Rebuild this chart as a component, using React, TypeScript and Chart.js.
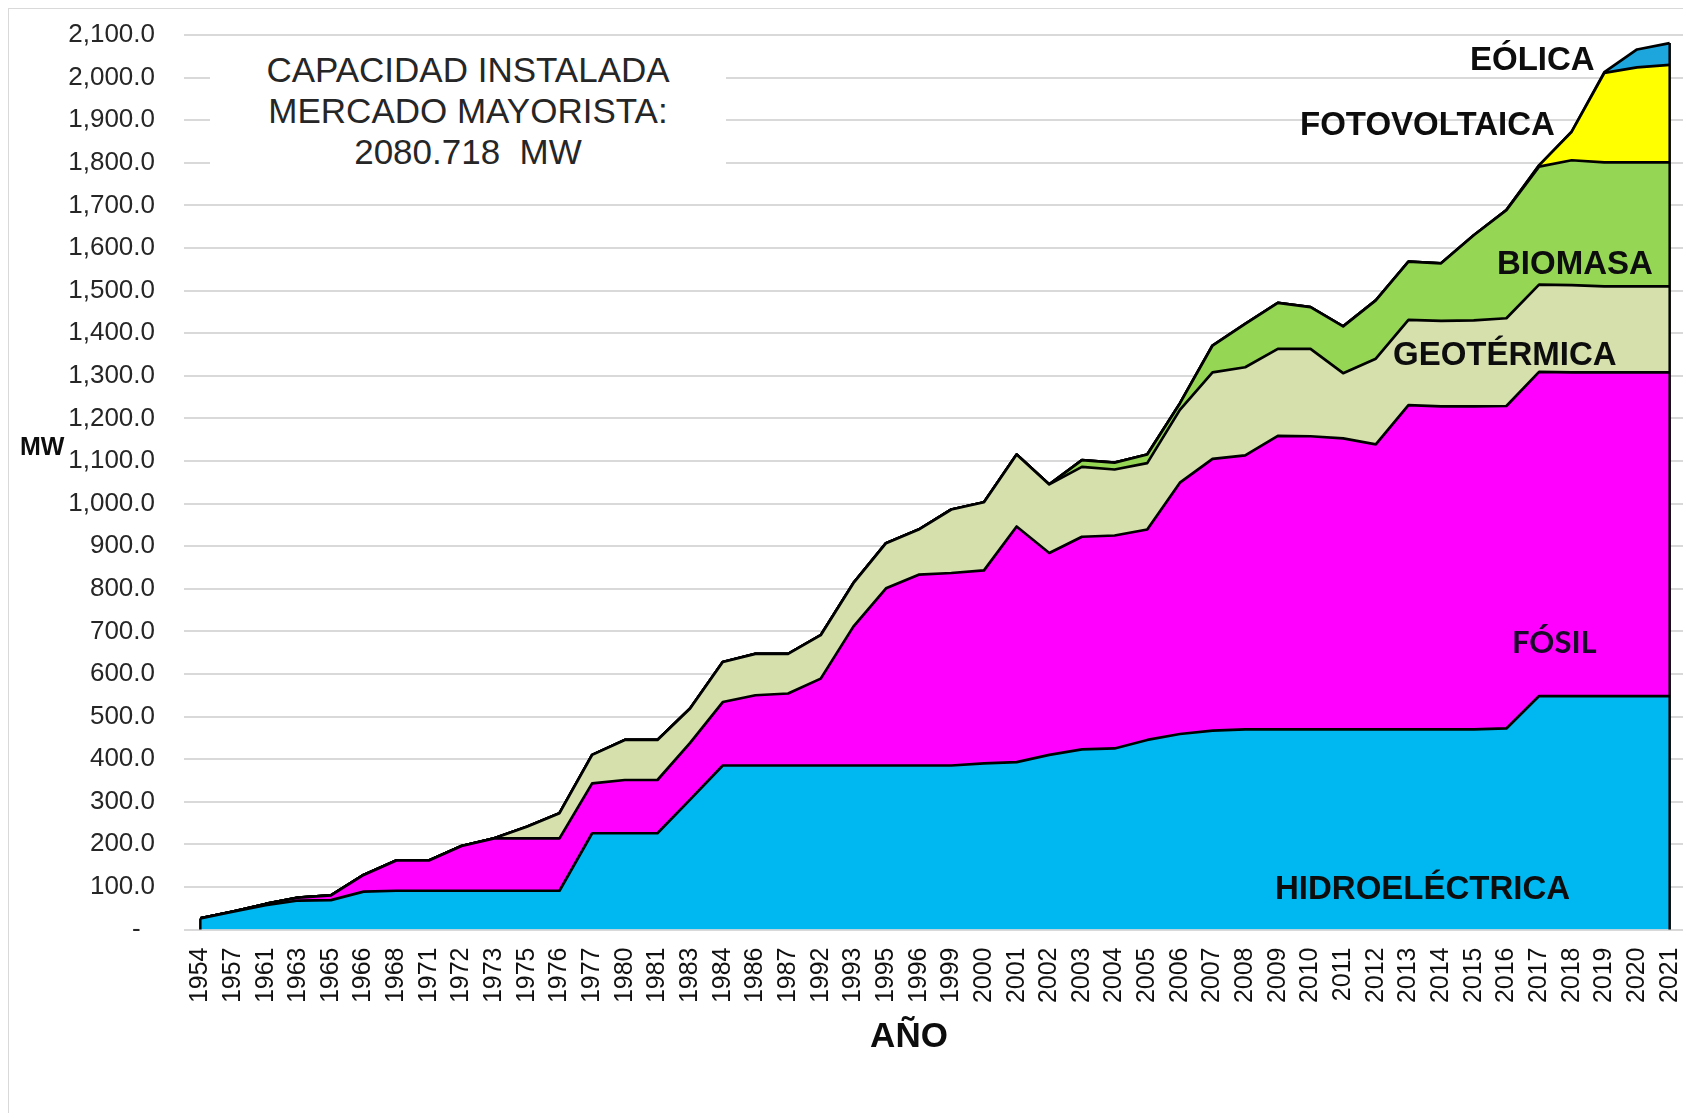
import React, { useEffect, useRef } from "react";
import { Chart, registerables } from "chart.js";

Chart.register(...registerables);

const years = ["1954","1957","1961","1963","1965","1966","1968","1971","1972","1973","1975","1976","1977","1980","1981","1983","1984","1986","1987","1992","1993","1995","1996","1999","2000","2001","2002","2003","2004","2005","2006","2007","2008","2009","2010","2011","2012","2013","2014","2015","2016","2017","2018","2019","2020","2021"];

const hydro = [26,42,57,68,69,89,91,91,91,91,91,91,226,226,226,305,385,385,385,385,385,385,385,385,390,393,410,423,425,445,459,467,470,470,470,470,470,470,470,470,472,548,548,548,548,548];
const fossil = [0,0,3,7,11,39,71,71,105,123,123,123,117,125,125,133,149,165,169,204,326,416,448,452,453,553,474,499,500,494,590,638,643,689,688,683,669,761,758,758,757,761,760,760,760,760];
const geo = [0,0,0,0,0,0,0,0,0,0,27,59,67,94,94,81,94,97,93,102,102,106,106,149,160,169,161,164,155,156,171,203,207,204,205,153,201,200,201,202,206,205,205,202,202,202];
const biomass = [0,0,0,0,0,0,0,0,0,0,0,0,0,0,0,0,0,0,0,0,0,0,0,0,0,0,0,16,16,20,15,63,102,108,98,110,137,137,135,200,254,277,293,291,291,291];
const solar = [0,0,0,0,0,0,0,0,0,0,0,0,0,0,0,0,0,0,0,0,0,0,0,0,0,0,0,0,0,0,0,0,0,0,0,0,0,0,0,0,0,3,67,210,223,229];
const wind = [0,0,0,0,0,0,0,0,0,0,0,0,0,0,0,0,0,0,0,0,0,0,0,0,0,0,0,0,0,0,0,0,0,0,0,0,0,0,0,0,0,0,0,2,42,51];

const seriesNames = ["HIDROELÉCTRICA", "FÓSIL", "GEOTÉRMICA", "BIOMASA", "FOTOVOLTAICA", "EÓLICA"];
const seriesColors = ["#00B8F1", "#FF00FF", "#D5E0AC", "#95D655", "#FFFF00", "#1DA6DE"];
const yTicksMax = 2100;
const yStep = 100;

const FONT = '"Liberation Sans", Arial, Helvetica, sans-serif';

const edgePlugin = {
  id: "edges",
  afterDatasetsDraw(chart: any) {
    const { ctx, scales } = chart;
    const x = scales.x;
    const y = scales.y;
    const n = years.length;
    const totals = years.map((_, i) => hydro[i] + fossil[i] + geo[i] + biomass[i] + solar[i] + wind[i]);
    ctx.save();
    ctx.strokeStyle = "#000";
    ctx.lineWidth = 2.5;
    [0, n - 1].forEach((i) => {
      const px = x.getPixelForValue(i);
      ctx.beginPath();
      ctx.moveTo(px, y.getPixelForValue(0));
      ctx.lineTo(px, y.getPixelForValue(totals[i]));
      ctx.stroke();
    });
    ctx.restore();
  },
};

export default function App() {
  const ref = useRef<HTMLCanvasElement | null>(null);

  useEffect(() => {
    document.body.style.overflow = "hidden";
    const canvas = ref.current;
    if (!canvas) return;
    const data = [hydro, fossil, geo, biomass, solar, wind];
    const chart = new Chart(canvas, {
      type: "line",
      data: {
        labels: years,
        datasets: data.map((d, i) => ({
          label: seriesNames[i],
          data: d,
          backgroundColor: seriesColors[i],
          borderColor: "#000",
          borderWidth: 2.7,
          fill: i === 0 ? "origin" : "-1",
          pointRadius: 0,
          tension: 0,
          borderJoinStyle: "round",
        })),
      },
      options: {
        responsive: false,
        animation: false,
        layout: { padding: { top: 26, right: 4, left: 0, bottom: 0 } },
        plugins: { legend: { display: false }, tooltip: { enabled: false } },
        scales: {
          x: {
            type: "category",
            offset: true,
            grid: { display: false, drawTicks: false },
            border: { display: false },
            ticks: {
              autoSkip: false,
              minRotation: 90,
              maxRotation: 90,
              padding: 18,
              color: "#111",
              font: { family: FONT, size: 25 },
            },
            afterFit: (s: any) => {
              s.height = 183.5;
              s.paddingLeft = 0;
              s.paddingRight = 0;
            },
          },
          y: {
            stacked: true,
            min: 0,
            max: yTicksMax,
            grid: { color: "#d9d9d9", lineWidth: 2, drawTicks: false },
            border: { display: false },
            ticks: {
              stepSize: yStep,
              padding: 29,
              color: "#262626",
              font: { family: FONT, size: 26 },
              callback: (v: any) =>
                Number(v) === 0
                  ? "-  "
                  : Number(v).toLocaleString("en-US", { minimumFractionDigits: 1, maximumFractionDigits: 1 }),
            },
            afterFit: (s: any) => {
              s.width = 175;
              s.paddingTop = 0;
              s.paddingBottom = 0;
            },
          },
        },
      },
      plugins: [edgePlugin],
    } as any);
    return () => chart.destroy();
  }, []);

  const lbl = (text: string, left: number, top: number, size: number, family = FONT, color = "#0d0d0d") => (
    <div
      style={{
        position: "absolute",
        left,
        top,
        fontFamily: family,
        fontWeight: 700,
        fontSize: size,
        lineHeight: `${size}px`,
        color,
        whiteSpace: "nowrap",
      }}
    >
      {text}
    </div>
  );

  return (
    <div
      style={{
        position: "relative",
        width: 1681,
        height: 1104,
        border: "1px solid #d9d9d9",
        background: "#fff",
      }}
    >
      <canvas ref={ref} width={1681} height={1104} style={{ display: "block", width: 1681, height: 1104 }} />
      <div style={{ position: "absolute", left: 201, top: 36, width: 516, height: 150, background: "#fff" }} />
      <div
        style={{
          position: "absolute",
          left: 201,
          top: 40,
          width: 516,
          textAlign: "center",
          fontFamily: FONT,
          fontSize: 35,
          lineHeight: "41px",
          color: "#262626",
        }}
      >
        <div>CAPACIDAD INSTALADA</div>
        <div>MERCADO MAYORISTA:</div>
        <div>2080.718&nbsp; MW</div>
      </div>
      {lbl("EÓLICA", 1461, 33, 33)}
      {lbl("FOTOVOLTAICA", 1291, 98, 33)}
      {lbl("BIOMASA", 1488, 237, 33)}
      {lbl("GEOTÉRMICA", 1384, 328, 33)}
      {lbl("FÓSIL", 1503, 617, 31, 'Lato, "Liberation Sans", sans-serif', "#1a0a2a")}
      {lbl("HIDROELÉCTRICA", 1266, 862, 33)}
      {lbl("MW", 11, 425, 25)}
      <div
        style={{
          position: "absolute",
          left: 800,
          top: 1008,
          width: 200,
          textAlign: "center",
          fontFamily: FONT,
          fontWeight: 700,
          fontSize: 35,
          lineHeight: "35px",
          color: "#0d0d0d",
        }}
      >
        AÑO
      </div>
    </div>
  );
}
